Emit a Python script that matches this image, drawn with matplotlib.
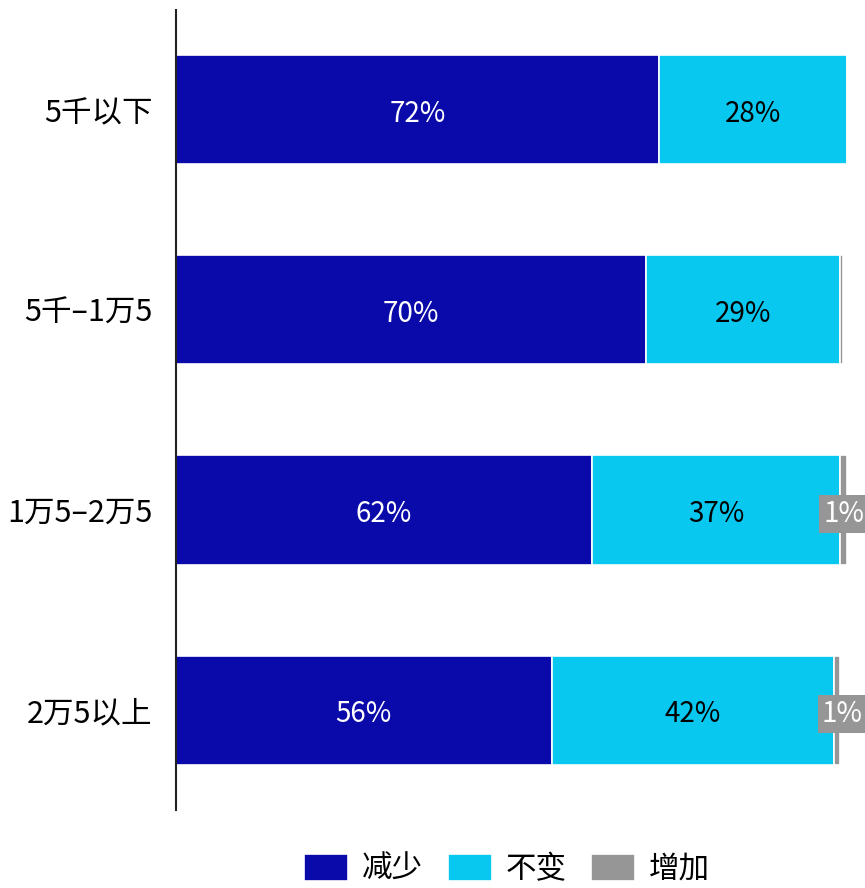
import matplotlib
matplotlib.use('Agg')
import matplotlib.pyplot as plt
import numpy as np

plt.rcParams['font.family'] = ['Noto Sans CJK SC', 'DejaVu Sans']

categories = ['5千以下', '5千–1万5', '1万5–2万5', '2万5以上']
decrease = [72, 70, 62, 56]
unchanged = [28, 29, 37, 42]
increase = [0, 0.4, 1, 1]
series_names = ['减少', '不变', '增加']
colors = ['#0A0AAA', '#08C8F0', '#969696']
text_colors = ['white', 'black', 'white']

fig = plt.figure(figsize=(8.65, 8.88), dpi=100)
ax = fig.add_axes([176 / 865, 78 / 888, 671 / 865, 800 / 888])

y = np.arange(len(categories))
left = np.zeros(len(categories))
for name, vals, color, tcolor in zip(series_names, [decrease, unchanged, increase], colors, text_colors):
    vals = np.array(vals, dtype=float)
    ax.barh(y, vals, left=left, height=0.545, color=color, edgecolor='white',
            linewidth=1.2, label=name)
    for yi, v, l in zip(y, vals, left):
        if v < 0.5:
            continue
        x = l + v / 2
        if v < 5:
            # small segments get a boxed label sitting over the bar end
            ax.text(max(x, 99.3), yi + 0.02, f'{v:.0f}%', ha='center', va='center',
                    fontsize=20, color=tcolor, clip_on=False,
                    bbox=dict(boxstyle='square,pad=0.14', fc=color, ec='none'))
        else:
            ax.text(x, yi + 0.02, f'{v:.0f}%', ha='center', va='center', fontsize=20,
                    color=tcolor)
    left += vals

ax.set_xlim(0, 100)
ax.set_ylim(3.5, -0.5)
ax.set_yticks(y)
ax.set_yticklabels(categories, fontsize=22)
ax.tick_params(axis='y', length=0, pad=17)
ax.set_xticks([])
for side in ['top', 'right', 'bottom']:
    ax.spines[side].set_visible(False)
ax.spines['left'].set_color('#222222')
ax.spines['left'].set_linewidth(1.5)

fig.legend(loc='center', bbox_to_anchor=(0.586, 0.021), ncol=3, frameon=False,
           fontsize=22, handlelength=1.44, handleheight=1.0, handletextpad=0.45,
           columnspacing=0.8, borderpad=0)

fig.savefig('out.png', dpi=100)
plt.close(fig)
